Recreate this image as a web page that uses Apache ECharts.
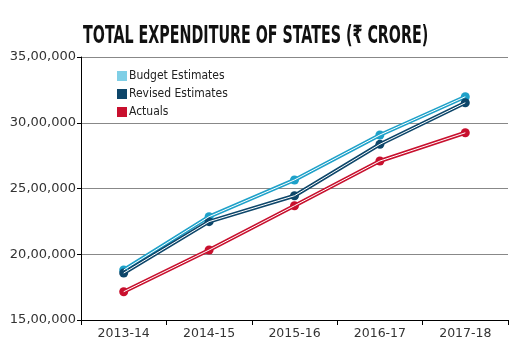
<!DOCTYPE html>
<html>
<head>
<meta charset="utf-8">
<script src="https://cdn.jsdelivr.net/npm/echarts@6/dist/echarts.min.js"></script>
<style>
  html, body { margin: 0; padding: 0; background: #fff; }
  #chart { width: 526px; height: 351px; }
</style>
</head>
<body>
<div id="chart"></div>
<script>
// 数据
const years = ['2013-14', '2014-15', '2015-16', '2016-17', '2017-18'];
const budgetData = [1880000, 2286000, 2565000, 2907000, 3198000];
const revisedData = [1857000, 2248000, 2445000, 2836000, 3152000];
const actualData = [1715000, 2032000, 2369000, 2709000, 2924000];

// 印度数字格式 35,00,000
function indianFormat(v) {
  const s = String(Math.round(v));
  if (s.length <= 3) return s;
  const last3 = s.slice(-3);
  const rest = s.slice(0, -3).replace(/\B(?=(\d{2})+(?!\d))/g, ',');
  return rest + ',' + last3;
}

function lineSeries(name, data, color) {
  return {
    name: name,
    type: 'line',
    data: data,
    symbol: 'circle',
    symbolSize: 9,
    lineStyle: { color: color, width: 4 },
    itemStyle: { color: color },
    z: 3
  };
}

// 白色细线，模仿原图的双线效果
function innerLine(data) {
  return {
    type: 'line',
    data: data,
    symbol: 'none',
    silent: true,
    lineStyle: { color: '#fff', width: 1 },
    z: 4,
    tooltip: { show: false }
  };
}

const font = 'DejaVu Sans Condensed, sans-serif';

const chart = echarts.init(document.getElementById('chart'));
chart.setOption({
  backgroundColor: '#fff',
  animation: false,
  graphic: [{
    type: 'text',
    left: 83,
    top: 24,
    scaleX: 0.635,
    style: {
      text: 'TOTAL EXPENDITURE OF STATES (₹ CRORE)',
      font: 'bold 25px "DejaVu Sans Condensed", sans-serif',
      fill: '#111'
    }
  }],
  legend: {
    data: [
      { name: 'Budget Estimates', itemStyle: { color: '#7fcfe6' } },
      { name: 'Revised Estimates', itemStyle: { color: '#0d466a' } },
      { name: 'Actuals', itemStyle: { color: '#c8102e' } }
    ],
    orient: 'vertical',
    left: 112,
    top: 65,
    itemWidth: 10,
    itemHeight: 10,
    itemGap: 6,
    icon: 'rect',
    textStyle: { fontSize: 12, color: '#222', fontFamily: font, padding: [0, 0, 0, -3] }
  },
  grid: { left: 81, right: 18, top: 57, bottom: 31 },
  xAxis: {
    type: 'category',
    data: years,
    boundaryGap: true,
    axisLine: { lineStyle: { color: '#000', width: 1 } },
    axisTick: { show: true, length: 5, lineStyle: { color: '#000' } },
    axisLabel: { color: '#333', fontSize: 12.5, margin: 7, fontFamily: 'DejaVu Sans, sans-serif' }
  },
  yAxis: {
    type: 'value',
    min: 1500000,
    max: 3500000,
    interval: 500000,
    axisLine: { show: true, lineStyle: { color: '#000', width: 1 } },
    axisTick: { show: true, length: 4, lineStyle: { color: '#000' } },
    axisLabel: { color: '#333', fontSize: 13, margin: 5, formatter: indianFormat, fontFamily: 'DejaVu Sans, sans-serif' },
    splitLine: { show: true, lineStyle: { color: '#888', width: 1 } }
  },
  series: [
    lineSeries('Budget Estimates', budgetData, '#1ea1c9'),
    innerLine(budgetData),
    lineSeries('Revised Estimates', revisedData, '#0d466a'),
    innerLine(revisedData),
    lineSeries('Actuals', actualData, '#c8102e'),
    innerLine(actualData)
  ]
});
</script>
</body>
</html>
